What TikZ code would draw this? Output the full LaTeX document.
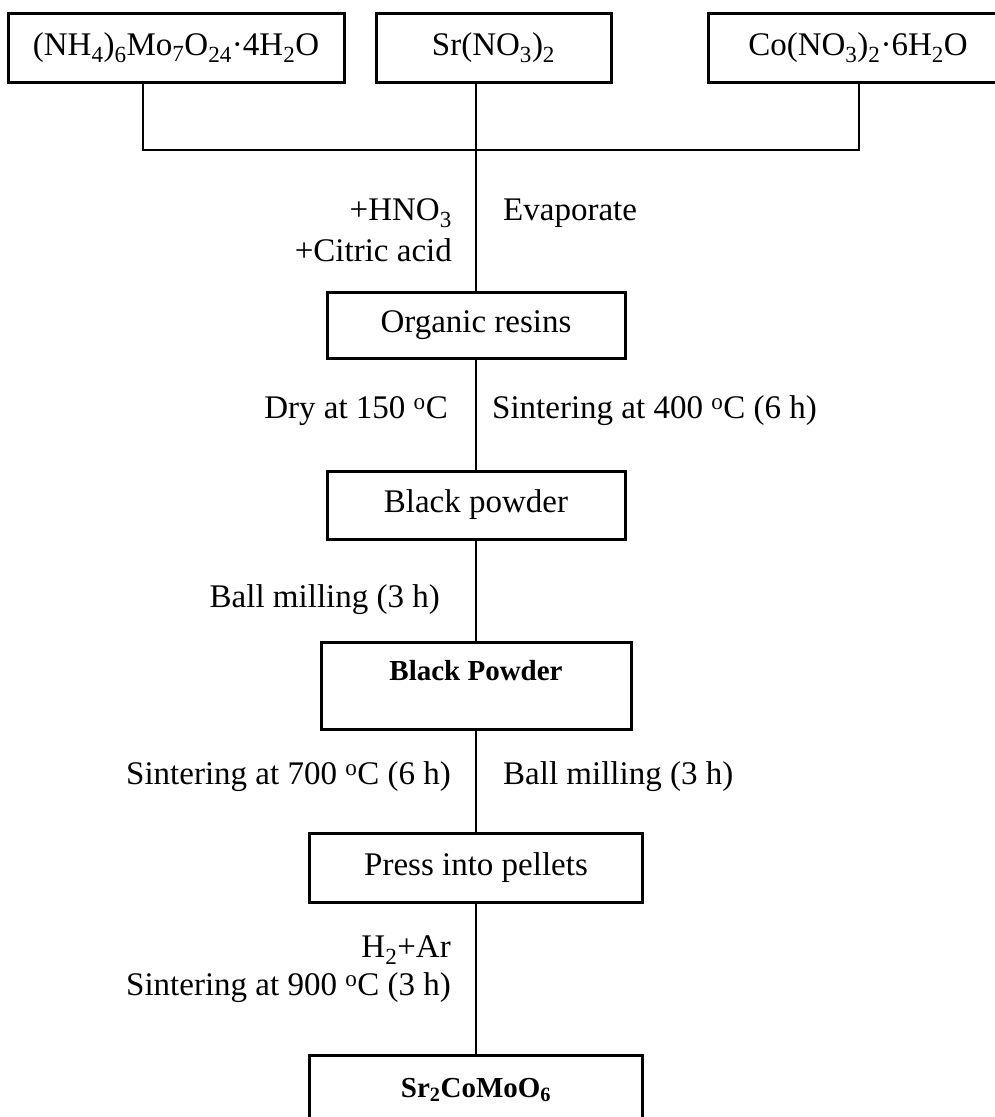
\documentclass[tikz,border=0pt]{standalone}
\usepackage{fontspec}
\setmainfont{Liberation Serif}
\begin{document}
\begin{tikzpicture}[x=1pt,y=-1pt,
  box/.style={draw=black, line width=3pt, fill=white, inner sep=0pt, font=\fontsize{33}{38}\selectfont},
  lbl/.style={inner sep=0pt, font=\fontsize{33}{38}\selectfont},
  bld/.style={inner sep=0pt, font=\fontsize{29}{34}\selectfont\bfseries},
  conn/.style={line width=2.8pt, line cap=rect}]
\useasboundingbox (0,0) rectangle (995,1117);
\clip (0,0) rectangle (995,1117);
\fill[white] (0,0) rectangle (995,1117);
% top boxes
\node[box, minimum width=336pt, minimum height=69pt] (b1) at (176,47.5) {(NH\textsubscript{4})\textsubscript{6}Mo\textsubscript{7}O\textsubscript{24}·4H\textsubscript{2}O};
\node[box, minimum width=235pt, minimum height=69pt] (b2) at (493.5,47.5) {Sr(NO\textsubscript{3})\textsubscript{2}};
\node[box, minimum width=300pt, minimum height=69pt] (b3) at (858,47.5) {Co(NO\textsubscript{3})\textsubscript{2}·6H\textsubscript{2}O};
\coordinate (j1) at (143,150);
\coordinate (jm) at (476,150);
\coordinate (j3) at (859,150);
% process boxes
\node[box, minimum width=298pt, minimum height=66pt] (r) at (476,325) {Organic resins};
\node[box, minimum width=298pt, minimum height=68pt] (bp1) at (476,505) {Black powder};
\node[box, minimum width=310pt, minimum height=87pt] (bp2) at (476,685.5) {};
\node[bld] (bp2t) at (476,671) {Black Powder};
\node[box, minimum width=333pt, minimum height=69pt] (pp) at (476,867.5) {Press into pellets};
\node[box, minimum width=333pt, minimum height=69pt] (sr) at (476,1089.5) {};
\node[bld] (srt) at (476,1090) {Sr\textsubscript{2}CoMoO\textsubscript{6}};
% connectors
\draw[conn] (b1.south -| j1) -- (j1) -- (j3) -- (b3.south -| j3);
\draw[conn] (b2.south -| jm) -- (r.north);
\draw[conn] (r.south) -- (bp1.north);
\draw[conn] (bp1.south) -- (bp2.north);
\draw[conn] (bp2.south) -- (pp.north);
\draw[conn] (pp.south) -- (sr.north);
% labels
\node[lbl, anchor=east] (l1) at (452,213) {+HNO\textsubscript{3}};
\node[lbl, anchor=east] (l2) at (452,250) {+Citric acid};
\node[lbl, anchor=west] (l3) at (503,213) {Evaporate};
\node[lbl, anchor=east] (l4) at (448,411) {Dry at 150 \textsuperscript{o}C};
\node[lbl, anchor=west] (l5) at (492,411) {Sintering at 400 \textsuperscript{o}C (6 h)};
\node[lbl, anchor=east] (l6) at (440,600) {Ball milling (3 h)};
\node[lbl, anchor=east] (l7) at (451,777) {Sintering at 700 \textsuperscript{o}C (6 h)};
\node[lbl, anchor=west] (l8) at (503,777) {Ball milling (3 h)};
\node[lbl, anchor=east] (l9) at (451,950) {H\textsubscript{2}+Ar};
\node[lbl, anchor=east] (l10) at (451,988) {Sintering at 900 \textsuperscript{o}C (3 h)};
\end{tikzpicture}
\end{document}
